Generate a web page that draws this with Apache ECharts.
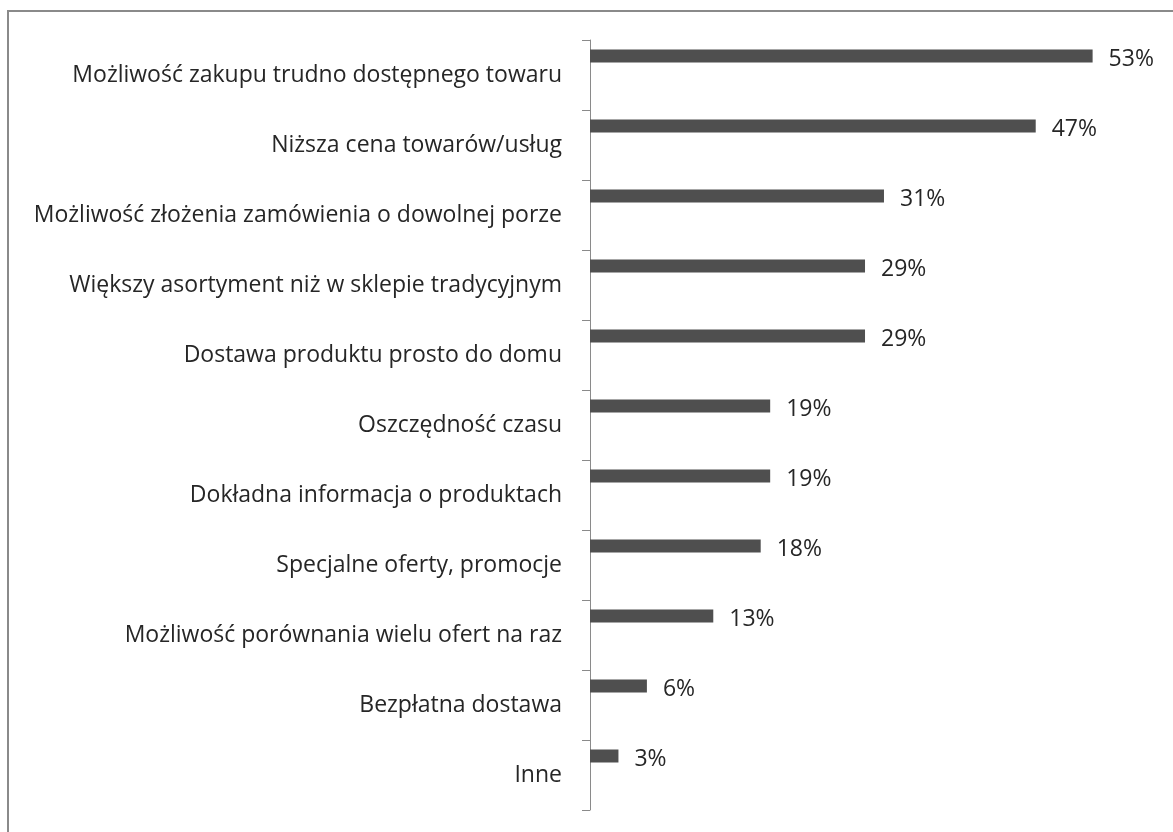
<!DOCTYPE html>
<html>
<head>
<meta charset="utf-8">
<script src="https://cdn.jsdelivr.net/npm/echarts@6/dist/echarts.min.js"></script>
<style>
  html, body { margin: 0; padding: 0; background: #fff; }
  #chart { width: 1173px; height: 832px; }
</style>
</head>
<body>
<div id="chart"></div>
<script>
// Reasons for shopping online (share of respondents, %)
const categories = [
  'Możliwość zakupu trudno dostępnego towaru',
  'Niższa cena towarów/usług',
  'Możliwość złożenia zamówienia o dowolnej porze',
  'Większy asortyment niż w sklepie tradycyjnym',
  'Dostawa produktu prosto do domu',
  'Oszczędność czasu',
  'Dokładna informacja o produktach',
  'Specjalne oferty, promocje',
  'Możliwość porównania wielu ofert na raz',
  'Bezpłatna dostawa',
  'Inne'
];
const values = [53, 47, 31, 29, 29, 19, 19, 18, 13, 6, 3];
const axisMax = 60;

const FONT = 'Open Sans';
const chart = echarts.init(document.getElementById('chart'));

const plotLeft = 590, plotTop = 40, plotWidth = 569, plotHeight = 770;
const barShift = 19; // bars sit in the upper part of each category band

chart.setOption({
  animation: false,
  graphic: [{
    type: 'rect',
    shape: { x: 8, y: 11, width: 1300, height: 1000 },
    style: { fill: 'none', stroke: '#8a8a8a', lineWidth: 2 },
    silent: true,
    z: 0
  }],
  grid: [
    { left: plotLeft, top: plotTop, width: plotWidth, height: plotHeight },
    { left: plotLeft, top: plotTop - barShift, width: plotWidth, height: plotHeight }
  ],
  xAxis: [
    { type: 'value', gridIndex: 0, min: 0, max: axisMax, show: false },
    { type: 'value', gridIndex: 1, min: 0, max: axisMax, show: false }
  ],
  yAxis: [
    {
      type: 'category', gridIndex: 0, data: categories, inverse: true,
      axisLine: { show: true, lineStyle: { color: '#8a8a8a', width: 1 } },
      axisTick: { show: true, length: 8, lineStyle: { color: '#8a8a8a' } },
      axisLabel: { color: '#262626', fontFamily: FONT, fontSize: 23, margin: 28 },
      splitLine: { show: false }
    },
    {
      type: 'category', gridIndex: 1, data: categories, inverse: true, show: false
    }
  ],
  series: [{
    type: 'bar',
    xAxisIndex: 1, yAxisIndex: 1,
    data: values,
    barWidth: 13,
    itemStyle: { color: '#4f4f4f' },
    label: {
      show: true, position: 'right', distance: 16, offset: [0, 3],
      formatter: p => p.value + '%',
      color: '#262626', fontFamily: FONT, fontSize: 23
    }
  }]
});
</script>
</body>
</html>
